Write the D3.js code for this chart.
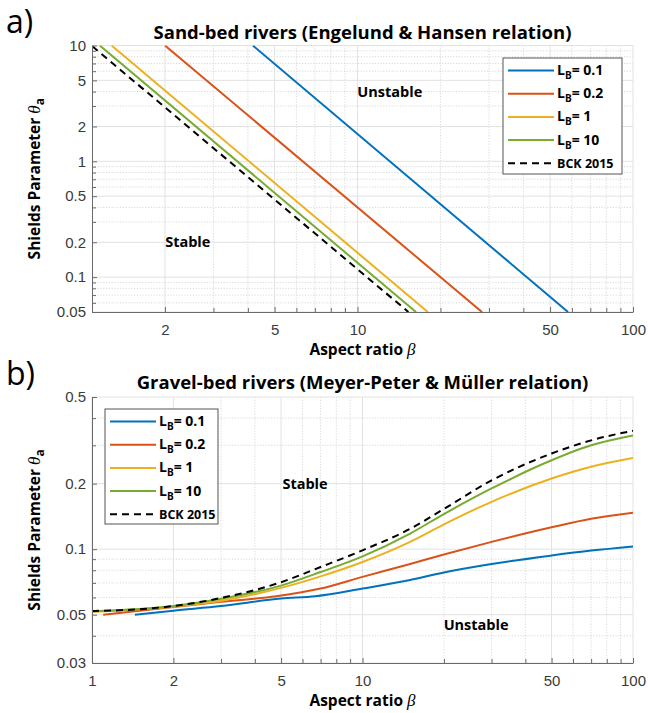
<!DOCTYPE html>
<html>
<head>
<meta charset="utf-8">
<script src="https://cdn.jsdelivr.net/npm/d3@7"></script>
<style>
  body { margin: 0; background: #fff; }
  svg { display: block; }
</style>
</head>
<body>
<div id="chart"></div>
<script>
// legend values of L_B
const lbValues = ["0.1", "0.2", "1", "10"];
const bckLabel = "BCK 2015";
const seriesColors = ["#0072BD", "#D95319", "#EDB120", "#77AC30", "#000000"];

// a) sand-bed rivers, [beta, theta] (straight in log-log)
const sandLB01 = [[4.17, 10], [58.1, 0.05]];
const sandLB02 = [[2.0, 10], [28.3, 0.05]];
const sandLB1 = [[1.28, 10], [18.0, 0.05]];
const sandLB10 = [[1.16, 10], [16.3, 0.05]];
const sandBCK = [[1.09, 9.85], [15.3, 0.05]];

// b) gravel-bed rivers, [beta, theta]
const gravelLB01 = [[1.44, 0.050], [2, 0.0522], [3, 0.0548], [5, 0.0593], [6.7, 0.0608], [10, 0.0659],
  [15, 0.0722], [20, 0.0782], [30, 0.0855], [50, 0.0935], [70, 0.0985], [100, 0.103]];
const gravelLB02 = [[1.1, 0.050], [2, 0.0542], [3, 0.0573], [4.8, 0.0608], [7, 0.0659], [10, 0.0746],
  [15, 0.0855], [20, 0.0945], [30, 0.108], [50, 0.126], [70, 0.138], [100, 0.147]];
const gravelLB1 = [[1, 0.0515], [2, 0.0545], [3, 0.058], [5, 0.0664], [7, 0.075], [10, 0.0873],
  [15, 0.108], [20, 0.130], [30, 0.165], [50, 0.211], [70, 0.239], [100, 0.262]];
const gravelLB10 = [[1, 0.0518], [2, 0.0548], [3, 0.0592], [5, 0.068], [7, 0.0785], [10, 0.0927],
  [15, 0.118], [20, 0.145], [30, 0.19], [50, 0.256], [70, 0.30], [100, 0.333]];
const gravelBCK = [[1, 0.052], [1.5, 0.053], [2, 0.0548], [3, 0.0597], [5, 0.0705], [7, 0.0828], [10, 0.0988],
  [15, 0.124], [20, 0.153], [30, 0.207], [50, 0.275], [70, 0.316], [100, 0.35]];

// axes
const sandXDomain = [1.087, 100];
const sandYDomain = [0.05, 10];
const sandXTicks = [2, 5, 10, 50, 100];
const sandYTicks = [0.05, 0.1, 0.2, 0.5, 1, 2, 5, 10];
const gravelXDomain = [1, 100];
const gravelYDomain = [0.03, 0.5];
const gravelXTicks = [1, 2, 5, 10, 50, 100];
const gravelYTicks = [0.03, 0.05, 0.1, 0.2, 0.5];

// region labels [text, beta, theta]
const sandRegions = [["Unstable", 13.1, 4.0], ["Stable", 2.42, 0.2]];
const gravelRegions = [["Stable", 6.13, 0.2], ["Unstable", 26.3, 0.045]];

const W = 648, H = 713;
const sansBold = "'Open Sans', 'Noto Sans', sans-serif";
const tickFont = "'Liberation Sans', Arial, sans-serif";

const svg = d3.select("#chart").append("svg")
  .attr("width", W)
  .attr("height", H)
  .attr("viewBox", "0 0 " + W + " " + H);

drawPanel({
  id: "a", tag: "a)", tagY: 33,
  title: "Sand-bed rivers (Engelund & Hansen relation)", titleY: 39,
  left: 92, right: 633, top: 45.5, bottom: 312,
  xDomain: sandXDomain, yDomain: sandYDomain, xTicks: sandXTicks, yTicks: sandYTicks,
  series: [sandLB01, sandLB02, sandLB1, sandLB10, sandBCK],
  curve: d3.curveLinear,
  regions: sandRegions,
  legend: { x: 503, y: 58, w: 119, h: 116 }
});

drawPanel({
  id: "b", tag: "b)", tagY: 385,
  title: "Gravel-bed rivers (Meyer-Peter & Müller relation)", titleY: 389,
  left: 92, right: 633, top: 397, bottom: 663,
  xDomain: gravelXDomain, yDomain: gravelYDomain, xTicks: gravelXTicks, yTicks: gravelYTicks,
  series: [gravelLB01, gravelLB02, gravelLB1, gravelLB10, gravelBCK],
  curve: d3.curveMonotoneX,
  regions: gravelRegions,
  legend: { x: 105, y: 409, w: 113, h: 115 }
});

function logMinor(domain, major) {
  const out = [];
  const e0 = Math.floor(Math.log10(domain[0])), e1 = Math.ceil(Math.log10(domain[1]));
  for (let e = e0; e <= e1; e++) {
    for (let k = 1; k < 10; k++) {
      const v = +(k * Math.pow(10, e)).toPrecision(6);
      if (v >= domain[0] * 0.9999 && v <= domain[1] * 1.0001 && !major.some(m => Math.abs(m - v) < 1e-9)) out.push(v);
    }
  }
  return out;
}

function drawPanel(p) {
  const x = d3.scaleLog().domain(p.xDomain).range([p.left, p.right]);
  const y = d3.scaleLog().domain(p.yDomain).range([p.bottom, p.top]);
  const g = svg.append("g");
  const xMinor = logMinor(p.xDomain, p.xTicks);
  const yMinor = logMinor(p.yDomain, p.yTicks);

  // grid: minor dotted, major solid
  const grid = g.append("g");
  grid.selectAll(".vmin").data(xMinor).enter().append("line")
    .attr("x1", d => x(d)).attr("x2", d => x(d)).attr("y1", p.top).attr("y2", p.bottom)
    .attr("stroke", "#cfcfcf").attr("stroke-width", 0.8).attr("stroke-dasharray", "1.2,1.6");
  grid.selectAll(".hmin").data(yMinor).enter().append("line")
    .attr("y1", d => y(d)).attr("y2", d => y(d)).attr("x1", p.left).attr("x2", p.right)
    .attr("stroke", "#cfcfcf").attr("stroke-width", 0.8).attr("stroke-dasharray", "1.2,1.6");
  grid.selectAll(".vmaj").data(p.xTicks).enter().append("line")
    .attr("x1", d => x(d)).attr("x2", d => x(d)).attr("y1", p.top).attr("y2", p.bottom)
    .attr("stroke", "#e2e2e2").attr("stroke-width", 1);
  grid.selectAll(".hmaj").data(p.yTicks).enter().append("line")
    .attr("y1", d => y(d)).attr("y2", d => y(d)).attr("x1", p.left).attr("x2", p.right)
    .attr("stroke", "#e2e2e2").attr("stroke-width", 1);

  // curves
  const clipId = "clip-" + p.id;
  g.append("clipPath").attr("id", clipId).append("rect")
    .attr("x", p.left).attr("y", p.top).attr("width", p.right - p.left).attr("height", p.bottom - p.top);
  const line = d3.line().x(d => x(d[0])).y(d => y(d[1])).curve(p.curve);
  g.append("g").attr("clip-path", "url(#" + clipId + ")")
    .selectAll("path").data(p.series).enter().append("path")
    .attr("d", line)
    .attr("fill", "none")
    .attr("stroke", (d, i) => seriesColors[i])
    .attr("stroke-width", 2)
    .attr("stroke-dasharray", (d, i) => i === 4 ? "7,5" : null);

  // axes, inward ticks
  const fmt = d3.format("~g");
  const xAxis = g.append("g").attr("transform", "translate(0," + p.bottom + ")")
    .call(d3.axisBottom(x).tickValues(p.xTicks).tickFormat(fmt).tickSizeInner(-5).tickSizeOuter(0).tickPadding(12));
  g.append("g").attr("transform", "translate(0," + p.bottom + ")")
    .call(d3.axisBottom(x).tickValues(xMinor).tickFormat("").tickSizeInner(-4).tickSizeOuter(0))
    .call(a => a.select(".domain").remove());
  const yAxis = g.append("g").attr("transform", "translate(" + p.left + ",0)")
    .call(d3.axisLeft(y).tickValues(p.yTicks).tickFormat(fmt).tickSizeInner(-5).tickSizeOuter(0).tickPadding(6));
  g.append("g").attr("transform", "translate(" + p.left + ",0)")
    .call(d3.axisLeft(y).tickValues(yMinor).tickFormat("").tickSizeInner(-4).tickSizeOuter(0))
    .call(a => a.select(".domain").remove());
  g.selectAll(".domain, .tick line").attr("stroke", "#6a6a6a");
  [xAxis, yAxis].forEach(a => a.selectAll("text")
    .attr("font-family", tickFont).attr("font-size", 15).attr("fill", "#3a3a3a"));

  // region labels
  g.selectAll(".region").data(p.regions).enter().append("text")
    .attr("x", d => x(d[1])).attr("y", d => y(d[2])).attr("dy", "0.36em")
    .attr("text-anchor", "middle")
    .attr("font-family", sansBold).attr("font-weight", 700).attr("font-size", 14.5)
    .text(d => d[0]);

  // title and panel tag
  g.append("text").attr("x", (p.left + p.right) / 2).attr("y", p.titleY)
    .attr("text-anchor", "middle")
    .attr("font-family", sansBold).attr("font-weight", 700).attr("font-size", 18.5)
    .text(p.title);
  g.append("text").attr("x", 6).attr("y", p.tagY)
    .attr("font-family", sansBold).attr("font-size", 32)
    .text(p.tag);

  // axis labels
  const xl = g.append("text").attr("x", (p.left + p.right) / 2).attr("y", p.bottom + 42.5)
    .attr("text-anchor", "middle")
    .attr("font-family", sansBold).attr("font-weight", 700).attr("font-size", 15.5);
  xl.append("tspan").text("Aspect ratio ");
  xl.append("tspan").attr("font-family", "'Liberation Serif', serif").attr("font-style", "italic")
    .attr("font-weight", 400).attr("font-size", 17).text("β");

  const yl = g.append("text")
    .attr("transform", "translate(40," + (p.top + p.bottom) / 2 + ") rotate(-90)")
    .attr("text-anchor", "middle")
    .attr("font-family", sansBold).attr("font-weight", 700).attr("font-size", 15.5);
  yl.append("tspan").text("Shields Parameter ");
  yl.append("tspan").attr("font-family", "'Liberation Serif', serif").attr("font-style", "italic")
    .attr("font-weight", 400).attr("font-size", 17).text("θ");
  yl.append("tspan").attr("font-size", 12).attr("dy", 4).text("a");

  // legend
  const L = p.legend;
  const lg = g.append("g").attr("transform", "translate(" + L.x + "," + L.y + ")");
  lg.append("rect").attr("width", L.w).attr("height", L.h)
    .attr("fill", "#fff").attr("stroke", "#555").attr("stroke-width", 1);
  const labels = lbValues.concat([bckLabel]);
  const rows = lg.selectAll(".row").data(labels).enter().append("g")
    .attr("transform", (d, i) => "translate(0," + (12.5 + i * 23.2) + ")");
  rows.append("line").attr("x1", 5).attr("x2", 51).attr("y1", 0).attr("y2", 0)
    .attr("stroke", (d, i) => seriesColors[i]).attr("stroke-width", 2)
    .attr("stroke-dasharray", (d, i) => i === 4 ? "7,5" : null);
  rows.each(function (d, i) {
    const t = d3.select(this).append("text").attr("x", 54).attr("y", 4.5)
      .attr("font-family", sansBold).attr("font-weight", 700).attr("font-size", i === 4 ? 12.5 : 14);
    if (i === 4) {
      t.text(d);
    } else {
      t.append("tspan").text("L");
      t.append("tspan").attr("font-size", 10).attr("dy", 4).text("B");
      t.append("tspan").attr("dy", -4).text("= " + d);
    }
  });
}
</script>
</body>
</html>
